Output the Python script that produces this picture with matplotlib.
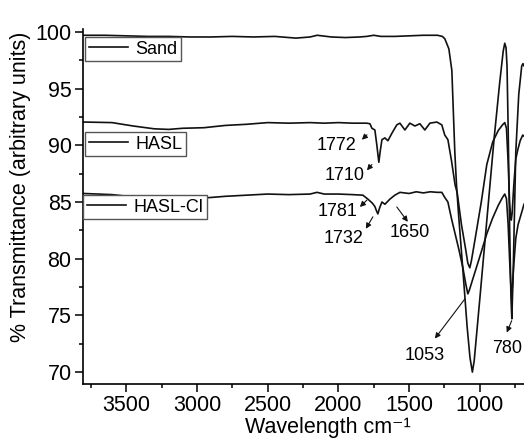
import matplotlib
matplotlib.use("Agg")
import matplotlib.pyplot as plt
from matplotlib.legend import Legend
from matplotlib.ticker import MultipleLocator

# ---------------- fonts ----------------
plt.rcParams["font.family"] = ["Liberation Sans", "DejaVu Sans"]

# ---------------- data ----------------
sand_wn = [3800, 3650, 3500, 3350, 3200, 3050, 2900, 2750, 2600, 2450, 2300,
           2200, 2150, 2050, 1950, 1850, 1800, 1750, 1700, 1600, 1500, 1400,
           1300, 1265, 1248, 1235, 1219, 1198, 1177, 1165, 1150, 1120, 1090,
           1070, 1053, 1040, 1000, 950, 900, 860, 835, 824, 815, 808, 800,
           790, 780, 774, 765, 746, 725, 704, 695, 688]
sand_t = [99.7, 99.7, 99.65, 99.6, 99.6, 99.55, 99.55, 99.6, 99.55, 99.6, 99.45,
          99.55, 99.7, 99.55, 99.5, 99.55, 99.6, 99.7, 99.6, 99.6, 99.65, 99.7,
          99.7, 99.6, 99.4, 99.0, 98.5, 96.6, 89.4, 86.5, 83.8, 79.0, 74.0,
          71.3, 70.0, 71.0, 76.5, 83.5, 90.5, 95.5, 98.3, 99.0, 98.6, 97.0, 91.5,
          83.0, 76.5, 74.7, 78.5, 89.4, 94.5, 97.0, 97.2, 97.0]

hasl_wn = [3800, 3600, 3450, 3300, 3200, 3100, 2950, 2800, 2650, 2500, 2350,
           2200, 2100, 2000, 1900, 1800, 1777, 1763, 1742, 1728, 1714, 1704,
           1692, 1671, 1650, 1620, 1587, 1565, 1530, 1495, 1459, 1424, 1389,
           1353, 1304, 1269, 1248, 1226, 1200, 1175, 1160, 1130, 1100, 1085,
           1071, 1060, 1030, 990, 951, 909, 870, 840, 824, 812, 800, 790, 782,
           778, 772, 760, 746, 732, 715, 697, 688]
hasl_t = [92.05, 92.0, 91.7, 91.45, 91.4, 91.5, 91.55, 91.75, 91.85, 92.0, 91.95,
          92.0, 91.95, 92.0, 91.95, 91.95, 91.9, 91.5, 91.35, 90.0, 88.5, 89.5,
          90.5, 90.65, 90.4, 91.1, 91.8, 91.95, 91.35, 91.95, 91.7, 91.9, 91.35,
          91.95, 92.05, 91.8, 90.9, 90.5, 88.6, 86.5, 85.8, 83.0, 80.8, 79.6,
          79.2, 79.8, 82.0, 85.0, 88.3, 90.3, 91.3, 91.8, 92.0, 91.5, 88.5, 85.0, 83.6,
          83.4, 84.0, 86.5, 88.8, 89.6, 90.4, 90.9, 90.8]

hcl_wn = [3800, 3600, 3450, 3300, 3200, 3100, 2950, 2800, 2650, 2500, 2350,
          2200, 2151, 2100, 2000, 1900, 1827, 1791, 1760, 1742, 1730, 1721,
          1708, 1692, 1671, 1636, 1601, 1565, 1500, 1450, 1400, 1350, 1300,
          1269, 1248, 1226, 1200, 1175, 1150, 1120, 1100, 1085, 1075, 1060,
          1030, 990, 951, 909, 870, 840, 824, 812, 800, 790, 782, 776, 770,
          760, 746, 730, 704, 688]
hcl_t = [85.75, 85.65, 85.45, 85.3, 85.25, 85.3, 85.35, 85.5, 85.6, 85.7, 85.65,
         85.7, 85.85, 85.7, 85.7, 85.65, 85.6, 85.25, 84.9, 84.6, 84.2, 83.95,
         84.5, 85.0, 84.8, 85.25, 85.6, 85.85, 85.75, 85.9, 85.8, 85.9, 85.85,
         85.85, 85.4, 85.0, 83.5, 82.2, 80.9, 79.2, 77.8, 76.9, 77.2, 77.8,
         79.0, 80.6, 82.2, 83.6, 84.7, 85.4, 85.7, 85.3, 83.0, 80.0, 77.8, 77.0,
         77.5, 79.5, 81.8, 83.0, 84.1, 84.8]

names = ["Sand", "HASL", "HASL-Cl"]

# peak labels: text, text position, arrow head, arrow tail (data coords)
peak_labels = ["1772", "1710", "1781", "1732", "1650", "1053", "780"]
label_pos = [(2010, 89.97), (1954, 87.35), (2003, 84.12), (1961, 81.77),
             (1495, 82.29), (1389, 71.48), (810, 72.09)]
arrow_head = [(1834, 90.49), (1798, 87.79), (1848, 84.56), (1806, 82.64),
              (1509, 83.25), (1318, 72.96), (810, 73.49)]
arrow_tail = [(1798, 90.92), (1763, 88.31), (1798, 85.17), (1756, 83.69),
              (1587, 84.56), (1106, 76.45), (775, 74.53)]

# ---------------- plot ----------------
fig = plt.figure(figsize=(5.24, 4.44), dpi=100)
ax = fig.add_axes([0.1584, 0.1351, 0.8416, 0.7995])

lines = []
for wn, t in [(sand_wn, sand_t), (hasl_wn, hasl_t), (hcl_wn, hcl_t)]:
    ln, = ax.plot(wn, t, color="#111111", lw=1.2)
    lines.append(ln)

ax.set_xlim(3805, 688)
ax.set_ylim(68.95, 100.25)

ax.xaxis.set_major_locator(MultipleLocator(500))
ax.xaxis.set_minor_locator(MultipleLocator(250))
ax.yaxis.set_major_locator(MultipleLocator(5))
ax.yaxis.set_minor_locator(MultipleLocator(2.5))
ax.tick_params(which="major", direction="out", length=6, width=1.1,
               labelsize=15.5, pad=2.2)
ax.tick_params(which="minor", direction="out", length=3, width=1.1)

for s in ["top", "right"]:
    ax.spines[s].set_visible(False)
for s in ["left", "bottom"]:
    ax.spines[s].set_linewidth(1.2)

ax.set_xlabel("Wavelength cm\u207b\u00b9", fontsize=15.5)
ax.set_ylabel("% Transmittance (arbitrary units)", fontsize=15.5)
ax.xaxis.set_label_coords(0.556, -0.093)
ax.yaxis.set_label_coords(-0.118, 0.555)

# -------- legend boxes, one per curve --------
anchors = [(0.0045, 0.977), (0.0045, 0.710), (0.0, 0.532)]
for ln, name, anc in zip(lines, names, anchors):
    leg = Legend(ax, [ln], [name], loc="upper left", bbox_to_anchor=anc,
                 frameon=True, fancybox=False, framealpha=1, edgecolor="#555555",
                 borderaxespad=0, handlelength=2.2, handletextpad=0.4,
                 borderpad=0.2, fontsize=13)
    leg.get_frame().set_linewidth(1.0)
    ax.add_artist(leg)

# -------- peak annotations --------
for txt, pos, head, tail in zip(peak_labels, label_pos, arrow_head, arrow_tail):
    ax.text(pos[0], pos[1], txt, fontsize=13, ha="center", va="center")
    ax.annotate("", xy=head, xytext=tail,
                arrowprops=dict(arrowstyle="-|>", color="#111111", lw=0.8,
                                mutation_scale=8, shrinkA=0, shrinkB=0))

fig.savefig("out.png", dpi=100)
